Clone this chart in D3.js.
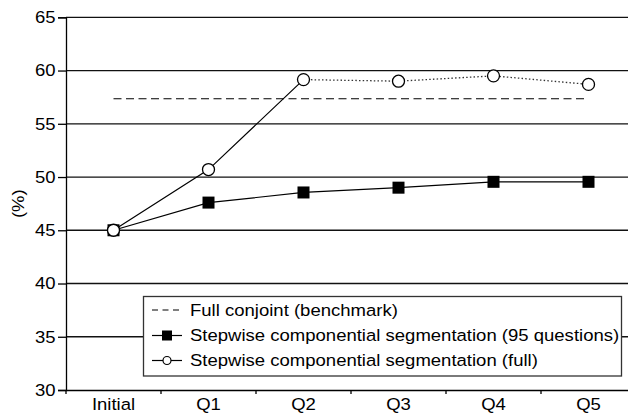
<!DOCTYPE html>
<html><head><meta charset="utf-8">
<script src="https://cdn.jsdelivr.net/npm/d3@7"></script>
<style>body{margin:0;background:#fff}svg{display:block}text{font-family:"Liberation Sans",Arial,sans-serif;fill:#000}</style>
</head><body>
<svg id="c" width="628" height="413"></svg>
<script>
const categories = ["Initial","Q1","Q2","Q3","Q4","Q5"];
const stepwise95 = [45, 47.6, 48.55, 49.0, 49.55, 49.55];
const stepwiseFull = [45, 50.7, 59.15, 59.0, 59.5, 58.7];
const benchmark = 57.35;
const yTicks = [30,35,40,45,50,55,60,65];
const legendLabels = ["Full conjoint (benchmark)","Stepwise componential segmentation (95 questions)","Stepwise componential segmentation (full)"];

const FS = "17px", SX = 1.09;
const svg = d3.select("#c");
const pL = 66, pR = 636, pT = 17.3, pB = 390;
const x = d3.scaleBand().domain(categories).range([pL,pR]);
const xc = c => x(c) + x.bandwidth()/2;
const y = d3.scaleLinear().domain([30,65]).range([pB,pT]);

// gridlines
svg.append("g").selectAll("line").data(yTicks.filter(t=>t>30)).join("line")
  .attr("x1",pL).attr("x2",628).attr("y1",d=>y(d)).attr("y2",d=>y(d))
  .attr("stroke","#111").attr("stroke-width",1.3);

// y axis
const ya = svg.append("g").attr("transform",`translate(${pL},0)`)
  .call(d3.axisLeft(y).tickValues(yTicks).tickSize(8).tickPadding(3));
ya.select(".domain").attr("stroke","#000").attr("stroke-width",1.3);
ya.selectAll(".tick line").attr("stroke","#000").attr("stroke-width",1.3);
ya.selectAll("text").style("font-size",FS).attr("fill","#000")
  .attr("x",0).attr("transform",`translate(-10.5,0) scale(${SX},1)`);

// x axis
const xa = svg.append("g").attr("transform",`translate(0,${pB})`)
  .call(d3.axisBottom(x).tickSize(0).tickPadding(8));
xa.select(".domain").attr("stroke","#000").attr("stroke-width",1.3);
xa.selectAll("text").style("font-size",FS).attr("fill","#000").attr("transform",`scale(${SX},1)`);
svg.append("g").selectAll("line").data(categories).join("line")
  .attr("x1",d=>x(d)).attr("x2",d=>x(d)).attr("y1",pB).attr("y2",pB+4)
  .attr("stroke","#000").attr("stroke-width",1.3);

svg.append("text").attr("transform",`translate(18,${(pT+pB)/2}) rotate(-90) scale(${SX},1)`)
  .attr("text-anchor","middle").attr("dy","0.35em").style("font-size",FS).text("(%)");

// benchmark dashed
svg.append("line").attr("x1",xc(categories[0])).attr("x2",xc(categories[5]))
  .attr("y1",y(benchmark)).attr("y2",y(benchmark))
  .attr("stroke","#000").attr("stroke-width",1.2).attr("stroke-dasharray","8,4.5");

const line = d3.line().x((d,i)=>xc(categories[i])).y(d=>y(d));
const line2 = d3.line().x(d=>xc(d[0])).y(d=>y(d[1]));
svg.append("path").attr("d",line(stepwise95)).attr("fill","none").attr("stroke","#000").attr("stroke-width",1.2);
const fullPts = categories.map((c,i)=>[c,stepwiseFull[i]]);
svg.append("path").attr("d",line2(fullPts.slice(0,3))).attr("fill","none").attr("stroke","#000").attr("stroke-width",1.2);
svg.append("path").attr("d",line2(fullPts.slice(2))).attr("fill","none").attr("stroke","#333").attr("stroke-width",1.3).attr("stroke-dasharray","1.5,2.2");

svg.append("g").selectAll("rect").data(stepwise95).join("rect")
  .attr("x",(d,i)=>xc(categories[i])-6).attr("y",d=>y(d)-6).attr("width",12).attr("height",12).attr("fill","#000");
svg.append("g").selectAll("circle").data(stepwiseFull).join("circle")
  .attr("cx",(d,i)=>xc(categories[i])).attr("cy",d=>y(d)).attr("r",6)
  .attr("fill","#fff").attr("stroke","#000").attr("stroke-width",1.3);

// legend
const lg = svg.append("g");
lg.append("rect").attr("x",143.5).attr("y",296.5).attr("width",478).attr("height",79.5)
  .attr("fill","#fff").attr("stroke","#333").attr("stroke-width",1.3);
const rows = [310, 335.5, 360.5];
rows.forEach((ry,i)=>{
  const l = lg.append("line").attr("x1",152).attr("x2",182).attr("y1",ry).attr("y2",ry)
    .attr("stroke","#000").attr("stroke-width",1.2);
  if(i===0) l.attr("stroke-dasharray","6,4.5");
  if(i===1) lg.append("rect").attr("x",162).attr("y",ry-5).attr("width",10).attr("height",10).attr("fill","#000");
  if(i===2) lg.append("circle").attr("cx",167).attr("cy",ry).attr("r",4).attr("fill","#fff").attr("stroke","#000").attr("stroke-width",1.2);
  lg.append("text").attr("transform",`translate(190,${ry}) scale(${SX},1)`).attr("dy","0.35em")
    .style("font-size",FS).text(legendLabels[i]);
});
</script>
</body></html>
